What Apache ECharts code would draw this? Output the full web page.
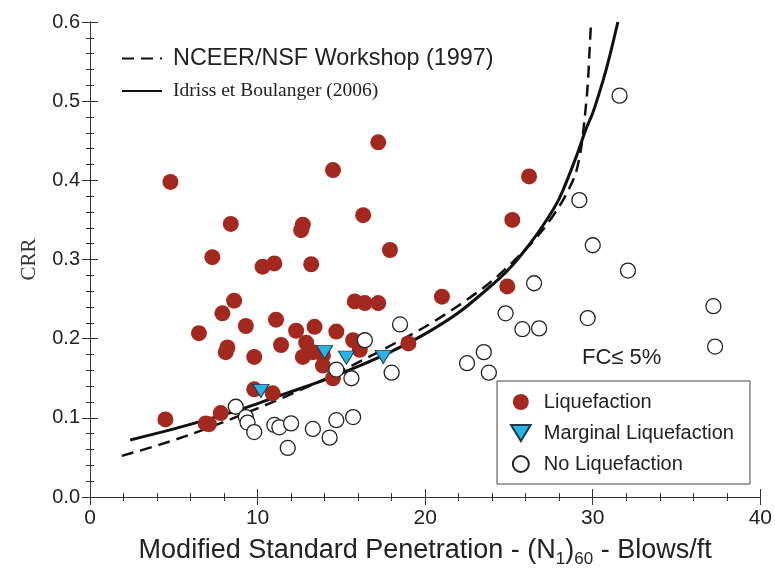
<!DOCTYPE html>
<html>
<head>
<meta charset="utf-8">
<script src="https://cdn.jsdelivr.net/npm/echarts@6/dist/echarts.min.js"></script>
<style>
  html, body { margin: 0; padding: 0; background: #fff; }
  #chart { width: 775px; height: 579px; }
</style>
</head>
<body>
<div id="chart"></div>
<script>
// ---- data ----
const xTicks = [0, 10, 20, 30, 40];
const yTicks = [0.0, 0.1, 0.2, 0.3, 0.4, 0.5, 0.6];

// NCEER/NSF Workshop (1997) curve (dashed)
const nceerCurve = [
  [1.9, 0.052], [4, 0.065], [6, 0.079], [8, 0.095], [10, 0.112], [12, 0.130],
  [14, 0.149], [16, 0.170], [18, 0.192], [20, 0.215], [22, 0.242], [24, 0.273],
  [26, 0.313], [27, 0.337], [28, 0.367], [28.6, 0.390], [29.0, 0.410],
  [29.3, 0.440], [29.5, 0.475], [29.7, 0.520], [29.8, 0.560], [29.9, 0.600]
];

// Idriss et Boulanger (2006) curve (solid)
const ibCurve = [
  [2.4, 0.072], [5, 0.086], [8, 0.104], [10, 0.118], [12, 0.133], [14, 0.148],
  [16, 0.165], [18, 0.184], [20, 0.206], [22, 0.233], [24, 0.268], [25, 0.288],
  [26, 0.313], [27, 0.342], [28, 0.377], [29, 0.429], [29.6, 0.465],
  [30, 0.485], [30.6, 0.525], [31, 0.556], [31.5, 0.600]
];

const liquefaction = [
  [4.8, 0.398], [8.4, 0.345], [12.7, 0.344], [12.6, 0.337], [17.2, 0.448], [14.5, 0.413],
  [16.3, 0.356], [17.9, 0.312], [26.2, 0.405], [25.2, 0.350], [7.3, 0.303], [10.3, 0.291],
  [11.0, 0.295], [13.2, 0.294], [8.6, 0.248], [7.9, 0.232], [9.3, 0.216], [6.5, 0.207],
  [8.2, 0.189], [8.1, 0.183], [9.8, 0.177], [9.8, 0.136], [4.5, 0.098], [6.9, 0.093],
  [7.1, 0.092], [7.8, 0.106], [11.1, 0.224], [11.4, 0.192], [12.3, 0.210], [12.9, 0.195],
  [12.7, 0.177], [13.3, 0.183], [13.4, 0.215], [14.7, 0.209], [15.7, 0.198], [16.1, 0.186],
  [13.9, 0.179], [13.9, 0.166], [14.5, 0.150], [15.8, 0.247], [16.4, 0.245], [17.2, 0.245],
  [10.9, 0.131], [21.0, 0.253], [24.9, 0.266], [19.0, 0.194]
];

const marginal = [
  [10.2, 0.134], [14.0, 0.183], [15.3, 0.176], [17.5, 0.177]
];

const noLiquefaction = [
  [8.7, 0.114], [9.3, 0.101], [9.4, 0.094], [9.8, 0.082], [11.0, 0.091], [11.3, 0.088],
  [12.0, 0.093], [11.8, 0.062], [13.3, 0.086], [14.3, 0.075], [14.7, 0.097], [15.7, 0.101],
  [16.4, 0.198], [14.7, 0.161], [15.6, 0.150], [18.5, 0.218], [18.0, 0.157], [22.5, 0.169],
  [23.5, 0.183], [23.8, 0.157], [24.8, 0.232], [25.8, 0.212], [26.8, 0.213], [26.5, 0.270],
  [29.7, 0.226], [29.2, 0.375], [30.0, 0.318], [32.1, 0.286], [31.6, 0.507], [37.2, 0.241],
  [37.3, 0.190]
];

const names = {
  nceer: 'NCEER/NSF Workshop (1997)',
  ib: 'Idriss et Boulanger (2006)',
  liq: 'Liquefaction',
  marg: 'Marginal Liquefaction',
  noliq: 'No Liquefaction'
};

// ---- chart ----
const chart = echarts.init(document.getElementById('chart'), null, { renderer: 'canvas' });

const axisColor = '#333';
const tickCommon = {
  axisLine: { show: true, lineStyle: { color: axisColor, width: 1 } },
  axisTick: { show: true, inside: true, length: 8, lineStyle: { color: axisColor } },
  minorTick: { show: true, splitNumber: 5, length: 4, lineStyle: { color: axisColor } },
  splitLine: { show: false },
  minorSplitLine: { show: false }
};

const option = {
  backgroundColor: '#fff',
  animation: false,
  grid: { left: 90, right: 10, top: 22, bottom: 82 },
  xAxis: [
    Object.assign({
      type: 'value', min: xTicks[0], max: xTicks[xTicks.length - 1], interval: 10,
      position: 'bottom',
      axisLabel: { fontSize: 21, color: '#222', margin: 11, fontFamily: 'Liberation Sans, Arial' },
      name: 'Modified Standard Penetration - (N{sub|1}){sub|60} - Blows/ft',
      nameLocation: 'middle', nameGap: 37,
      nameTextStyle: {
        fontSize: 27, color: '#222', fontFamily: 'Liberation Sans, Arial', lineHeight: 34,
        rich: { sub: { fontSize: 17, lineHeight: 16, verticalAlign: 'bottom', color: '#222', fontFamily: 'Liberation Sans, Arial' } }
      }
    }, tickCommon),
    Object.assign({
      type: 'value', min: xTicks[0], max: xTicks[xTicks.length - 1], interval: 10,
      position: 'top', axisLabel: { show: false }
    }, tickCommon)
  ],
  yAxis: [
    Object.assign({
      type: 'value', min: yTicks[0], max: yTicks[yTicks.length - 1], interval: 0.1,
      position: 'left',
      axisLabel: { fontSize: 20, color: '#222', margin: 10, fontFamily: 'Liberation Sans, Arial',
        formatter: v => v.toFixed(1) },
      name: 'CRR', nameLocation: 'middle', nameGap: 50,
      nameTextStyle: { fontSize: 21, color: '#333', fontFamily: 'Liberation Serif, Times New Roman' }
    }, tickCommon),
    Object.assign({
      type: 'value', min: yTicks[0], max: yTicks[yTicks.length - 1], interval: 0.1,
      position: 'right', axisLabel: { show: false }
    }, tickCommon)
  ],
  legend: [
    {
      data: [names.nceer, names.ib],
      orient: 'vertical', left: 116, top: 42,
      itemWidth: 40, itemHeight: 14, itemGap: 11,
      itemStyle: { opacity: 0 },
      formatter: n => n === names.ib ? '{b|' + n + '}' : '{a|' + n + '}',
      textStyle: {
        color: '#222',
        rich: {
          a: { fontSize: 23.4, fontFamily: 'Liberation Sans, Arial', color: '#222', padding: [0, 0, 0, 6] },
          b: { fontSize: 19.5, fontFamily: 'Liberation Serif, Times New Roman', color: '#222', padding: [0, 0, 0, 6] }
        }
      }
    },
    {
      data: [names.liq, names.marg, names.noliq],
      orient: 'vertical', left: 497, top: 381,
      borderColor: '#444', borderWidth: 1,
      padding: [11, 16, 10, 13],
      itemWidth: 36, itemHeight: 16, itemGap: 11,
      textStyle: { fontSize: 20, color: '#222', fontFamily: 'Liberation Sans, Arial' }
    }
  ],
  graphic: [
    {
      type: 'text', left: 582, top: 347,
      style: { text: 'FC≤ 5%', fontSize: 22, fill: '#222', fontFamily: 'Liberation Sans, Arial' }
    }
  ],
  series: [
    {
      name: names.nceer, type: 'line', data: nceerCurve, smooth: 0.3,
      symbol: 'none', showSymbol: false, z: 2,
      lineStyle: { color: '#111', width: 2.5, type: [12, 7] },
      itemStyle: { color: '#111' }
    },
    {
      name: names.ib, type: 'line', data: ibCurve, smooth: 0.3,
      symbol: 'none', showSymbol: false, z: 2,
      lineStyle: { color: '#111', width: 3, type: 'solid' },
      itemStyle: { color: '#111' }
    },
    {
      name: names.liq, type: 'scatter', data: liquefaction, z: 3,
      symbol: 'circle', symbolSize: 16,
      itemStyle: { color: '#a3281f', opacity: 1 }
    },
    {
      name: names.noliq, type: 'scatter', data: noLiquefaction, z: 4,
      symbol: 'circle', symbolSize: 15,
      itemStyle: { color: '#fff', borderColor: '#222', borderWidth: 1.3, opacity: 1 }
    },
    {
      name: names.marg, type: 'scatter', data: marginal, z: 5,
      symbol: 'path://M0,0L16,0L8,13Z', symbolSize: [16, 13],
      itemStyle: { color: '#2bb3e4', borderColor: '#1b3b4b', borderWidth: 1, opacity: 1 }
    }
  ]
};

chart.setOption(option);
</script>
</body>
</html>
